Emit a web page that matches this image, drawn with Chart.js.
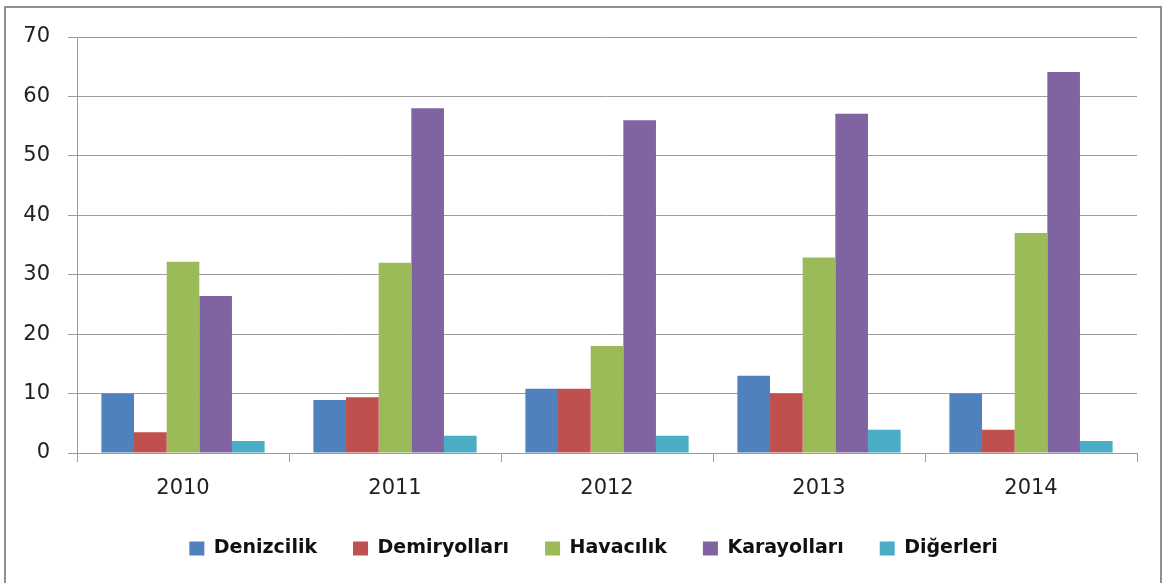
<!DOCTYPE html>
<html>
<head>
<meta charset="utf-8">
<script src="https://cdn.jsdelivr.net/npm/chart.js@4/dist/chart.umd.min.js"></script>
<style>
  html, body { margin: 0; padding: 0; background: #fff; }
  body { width: 1167px; height: 583px; position: relative; overflow: hidden; }
  #frame {
    position: absolute; left: 4px; top: 6px; width: 1158px; height: 600px;
    border: 2px solid #8f8f8f; box-sizing: border-box;
  }
  #wrap { position: absolute; left: 0; top: 0; width: 1167px; height: 583px; }
</style>
</head>
<body>
<div id="frame"></div>
<div id="wrap"><canvas id="chart"></canvas></div>
<script>
// years on the x axis
const years = ['2010', '2011', '2012', '2013', '2014'];

// values per sector
const denizcilik = [10, 8.9, 10.8, 13, 10];
const demiryollari = [3.5, 9.4, 10.8, 10, 3.9];
const havacilik = [32.2, 32, 18, 32.9, 37];
const karayollari = [26.4, 58, 56, 57.1, 64.1];
const digerleri = [2, 2.9, 2.9, 3.9, 2];

const yTicks = [0, 10, 20, 30, 40, 50, 60, 70];

const gridColor = '#9c9c9c';

// nudge the legend right so it sits under the plot like the original
const legendShift = {
  id: 'legendShift',
  afterLayout(chart) {
    if (chart.legend) {
      chart.legend.left += 25;
      chart.legend.right += 25;
    }
  }
};

const ctx = document.getElementById('chart').getContext('2d');

new Chart(ctx, {
  type: 'bar',
  data: {
    labels: years,
    datasets: [
      { label: 'Denizcilik', data: denizcilik, backgroundColor: '#4F81BD' },
      { label: 'Demiryolları', data: demiryollari, backgroundColor: '#C0504D' },
      { label: 'Havacılık', data: havacilik, backgroundColor: '#9BBB59' },
      { label: 'Karayolları', data: karayollari, backgroundColor: '#8064A2' },
      { label: 'Diğerleri', data: digerleri, backgroundColor: '#4BACC6' }
    ]
  },
  options: {
    responsive: true,
    maintainAspectRatio: false,
    animation: false,
    datasets: {
      bar: { barPercentage: 1, categoryPercentage: 0.77 }
    },
    layout: {
      padding: { left: 0, right: 30, top: 37, bottom: 15 }
    },
    scales: {
      x: {
        afterFit: (scale) => {
          scale.height = 50;
        },
        grid: {
          display: true,
          drawOnChartArea: false,
          drawTicks: true,
          tickLength: 9,
          offset: true,
          color: gridColor
        },
        border: { color: gridColor },
        ticks: {
          padding: 14,
          color: '#222',
          font: { family: 'DejaVu Sans', size: 21 }
        }
      },
      y: {
        min: 0,
        max: 70,
        afterBuildTicks: (scale) => {
          scale.ticks = yTicks.map(v => ({ value: v }));
        },
        afterFit: (scale) => {
          scale.width = 77;
        },
        grid: {
          color: gridColor,
          tickLength: 9
        },
        border: { color: gridColor },
        ticks: {
          padding: 18,
          color: '#222',
          font: { family: 'DejaVu Sans', size: 21 }
        }
      }
    },
    plugins: {
      legend: {
        position: 'bottom',
        labels: {
          boxWidth: 15,
          boxHeight: 14,
          padding: 36,
          color: '#111',
          font: { family: 'DejaVu Sans', size: 19, weight: 'bold' }
        }
      },
      tooltip: { enabled: false }
    }
  },
  plugins: [legendShift]
});
</script>
</body>
</html>
